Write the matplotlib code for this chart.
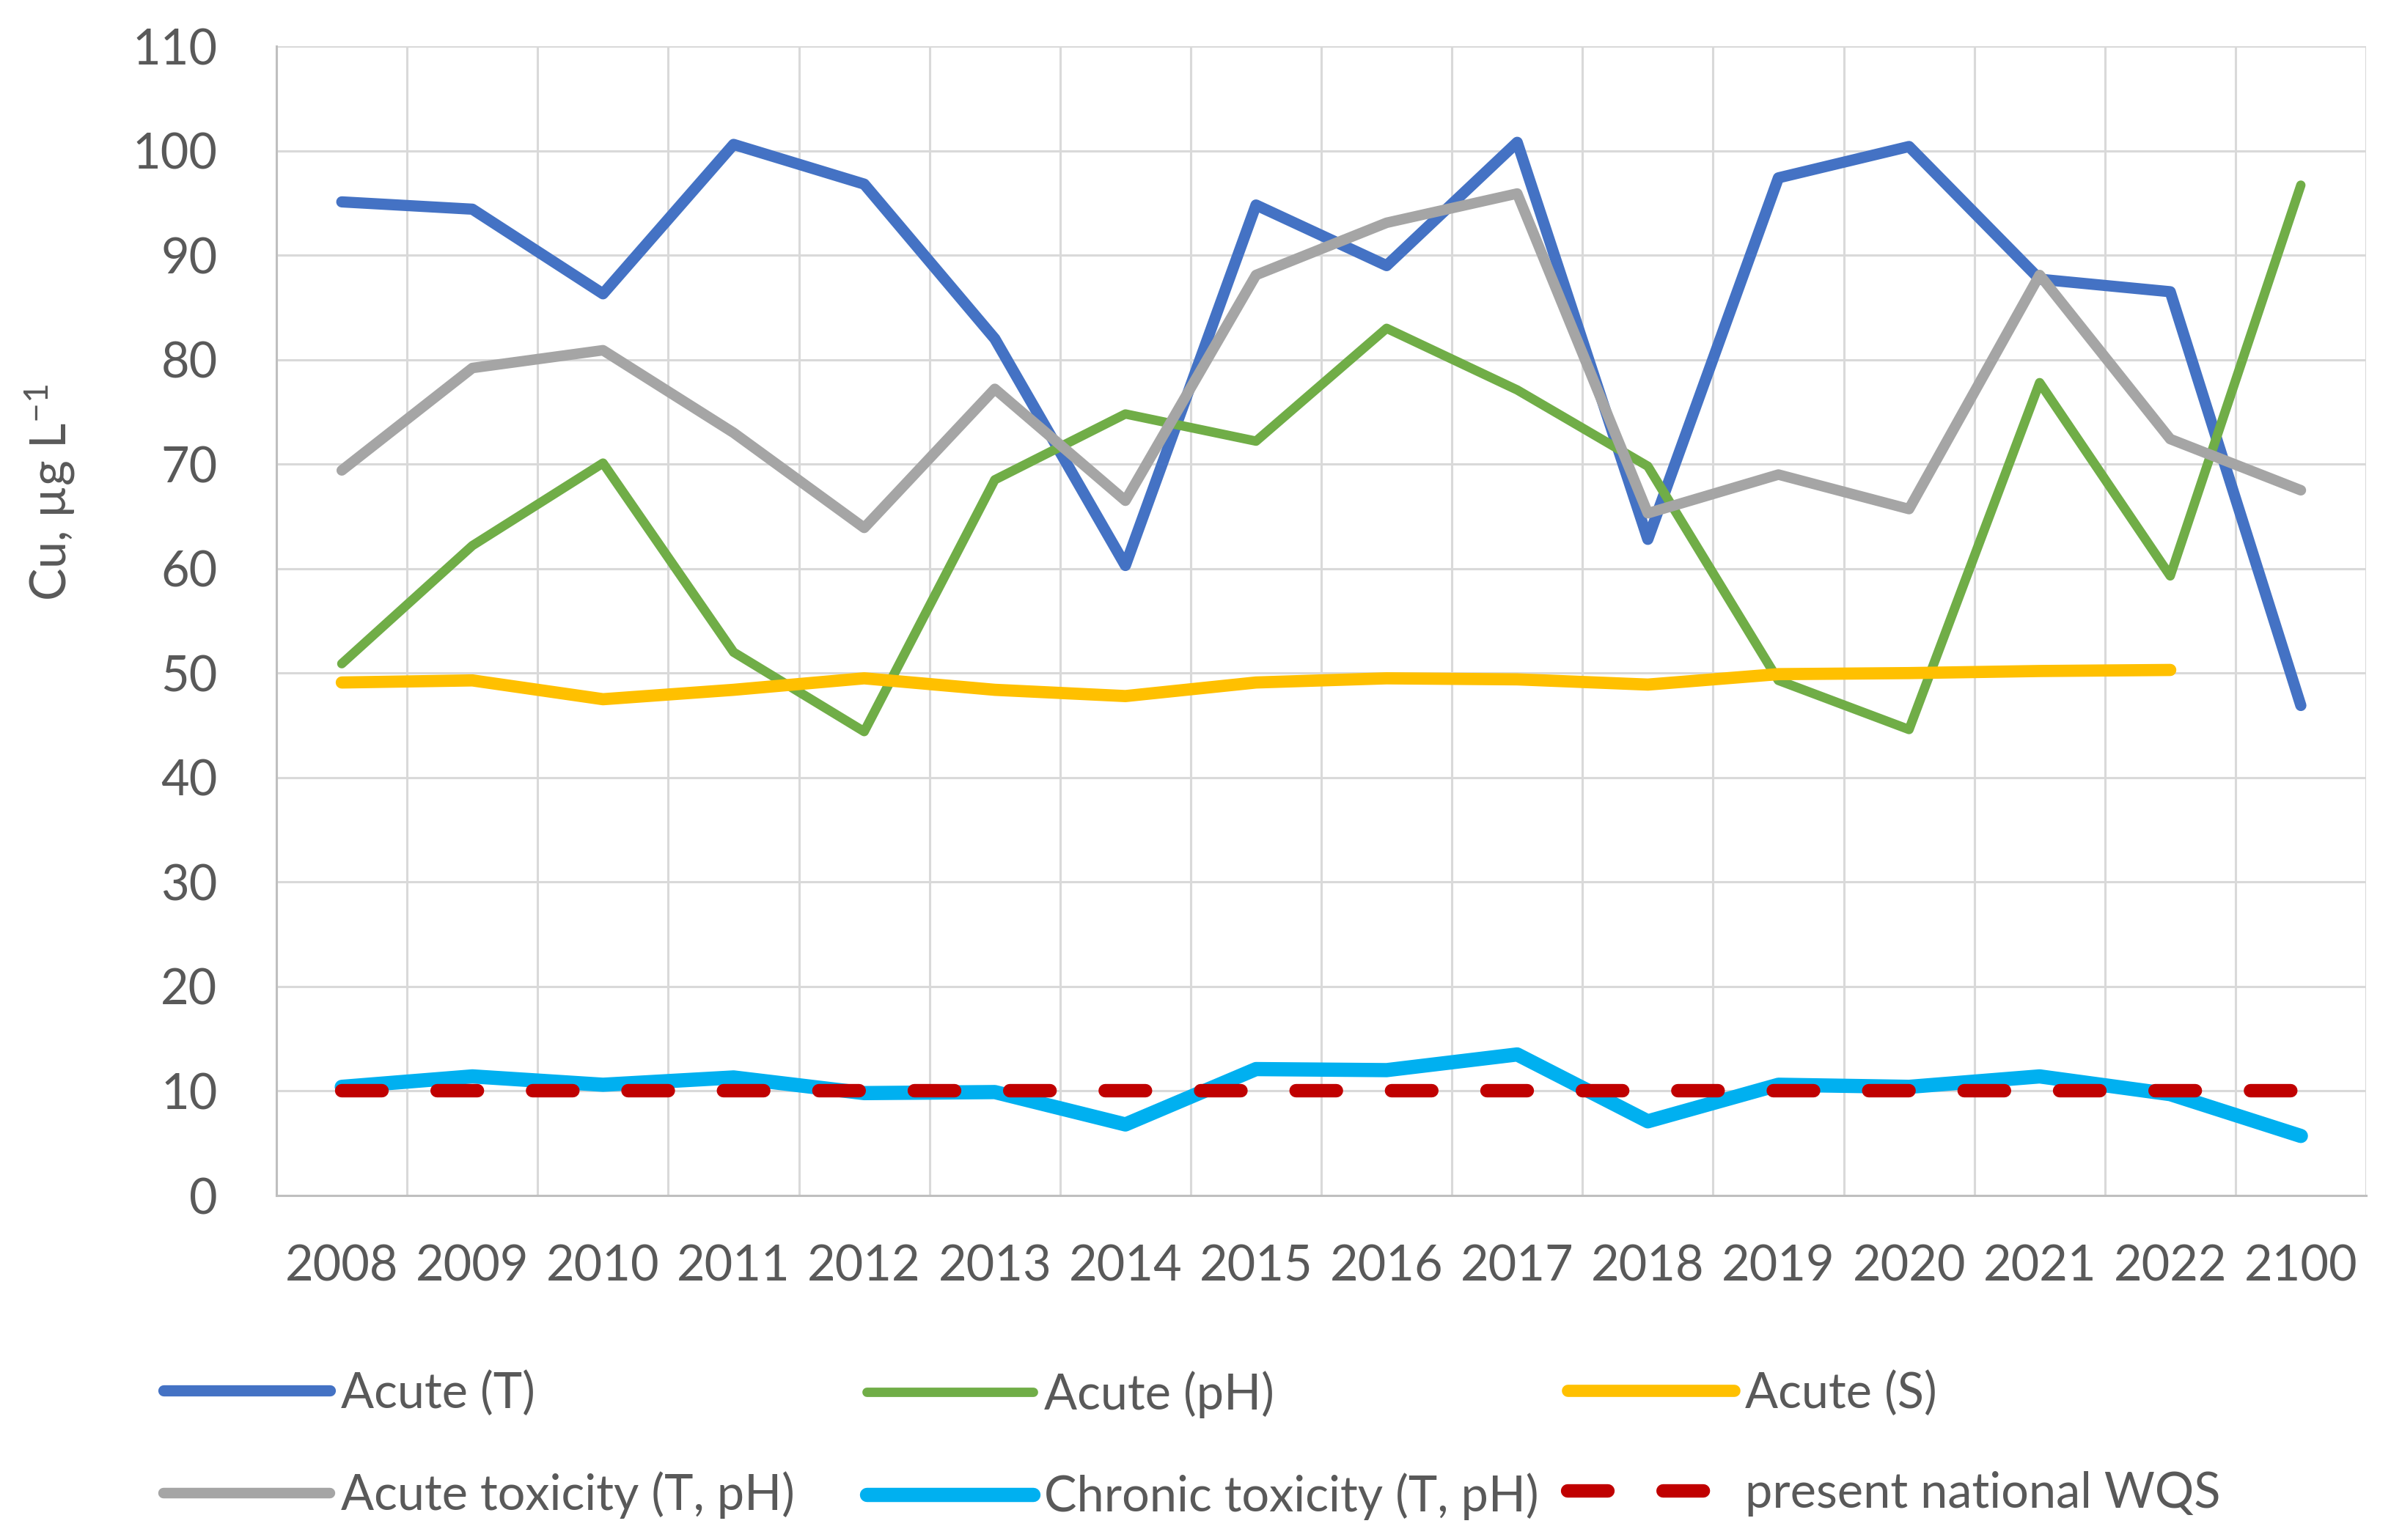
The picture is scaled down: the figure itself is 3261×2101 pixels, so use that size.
import numpy as np
import matplotlib
matplotlib.use("Agg")
import matplotlib.pyplot as plt

# Data
years = ["2008", "2009", "2010", "2011", "2012", "2013", "2014", "2015",
         "2016", "2017", "2018", "2019", "2020", "2021", "2022", "2100"]

acute_t = [95.1, 94.4, 86.3, 100.6, 96.8, 82.0, 60.3, 94.8,
           89.0, 100.8, 62.8, 97.4, 100.4, 87.7, 86.5, 46.9]
acute_ph = [50.9, 62.2, 70.1, 52.0, 44.4, 68.5, 74.8, 72.2,
            83.0, 77.1, 69.8, 49.3, 44.6, 77.8, 59.3, 96.7]
acute_s = [49.1, 49.3, 47.5, 48.4, 49.5, 48.4, 47.8, 49.1,
           49.5, 49.4, 48.9, 49.9, 50.0, 50.2, 50.3, np.nan]
acute_tox = [69.4, 79.2, 80.9, 73.0, 63.9, 77.2, 66.5, 88.1,
             93.1, 95.9, 65.3, 69.0, 65.7, 88.1, 72.4, 67.5]
chronic_tox = [10.4, 11.4, 10.6, 11.3, 9.8, 9.9, 6.8, 12.1,
               12.0, 13.5, 7.1, 10.6, 10.4, 11.4, 9.7, 5.7]
wqs = [10] * 16

labels = ["Acute (T)", "Acute (pH)", "Acute (S)",
          "Acute toxicity (T, pH)", "Chronic toxicity (T, pH)", "present national WQS"]
colors = ["#4472C4", "#70AD47", "#FFC000", "#A5A5A5", "#00B0F0", "#C00000"]

TEXT = "#595959"
plt.rcParams['font.family'] = ['Lato', 'DejaVu Sans']
plt.rcParams['mathtext.fontset'] = 'custom'
plt.rcParams['mathtext.rm'] = 'Lato'
plt.rcParams['mathtext.default'] = 'regular'


def main():

    fig = plt.figure(figsize=(16.31, 10.505), dpi=200)
    ax = fig.add_axes([0.1156, 0.2237, 0.8737, 0.7463])

    x = np.arange(len(years))
    series = [acute_t, acute_ph, acute_s, acute_tox, chronic_tox]
    widths = [5.5, 4.6, 6.0, 5.2, 7.0]

    lines = []
    for vals, col, lw, lab in zip(series, colors, widths, labels):
        ln, = ax.plot(x, vals, color=col, lw=lw, label=lab,
                      solid_capstyle="round", solid_joinstyle="round")
        lines.append(ln)

    ln, = ax.plot(x, wqs, color=colors[5], lw=6.6, label=labels[5],
                  dashes=(3.0, 4.1), dash_capstyle="round")
    lines.append(ln)

    # Axes, grid
    ax.set_xlim(-0.5, len(years) - 0.5)
    ax.set_ylim(0, 110)
    ax.set_yticks(np.arange(0, 111, 10))
    ax.set_xticks(x)
    ax.set_xticklabels(years)
    ax.set_xticks(np.arange(-0.5, len(years), 1), minor=True)

    ax.grid(True, axis="y", which="major", color="#D9D9D9", lw=1.1)
    ax.grid(True, axis="x", which="minor", color="#D9D9D9", lw=1.1)
    ax.set_axisbelow(True)

    for s in ["top", "right"]:
        ax.spines[s].set_visible(False)
    for s in ["left", "bottom"]:
        ax.spines[s].set_color("#BFBFBF")
        ax.spines[s].set_linewidth(1.1)

    ax.tick_params(axis="both", which="both", length=0, labelsize=24, colors=TEXT)
    ax.tick_params(axis="y", pad=29)
    ax.tick_params(axis="x", pad=24)

    ax.set_ylabel("Cu, µg L$^{-1}$", fontsize=24, color=TEXT)
    ax.yaxis.set_label_coords(-0.0954, 0.612)

    # Legend: three equal-width columns, two rows
    col_x = [0.0685, 0.3625, 0.6555]
    for i, cx in enumerate(col_x):
        leg = fig.legend(handles=[lines[i], lines[i + 3]], loc="upper left",
                         bbox_to_anchor=(cx, 0.110), frameon=False,
                         fontsize=24, handlelength=3.4, handletextpad=0.22,
                         labelspacing=1.12, borderpad=0, borderaxespad=0)
        for t in leg.get_texts():
            t.set_color(TEXT)

    fig.savefig("out.png", dpi=200)


if __name__ == "__main__":
    main()
